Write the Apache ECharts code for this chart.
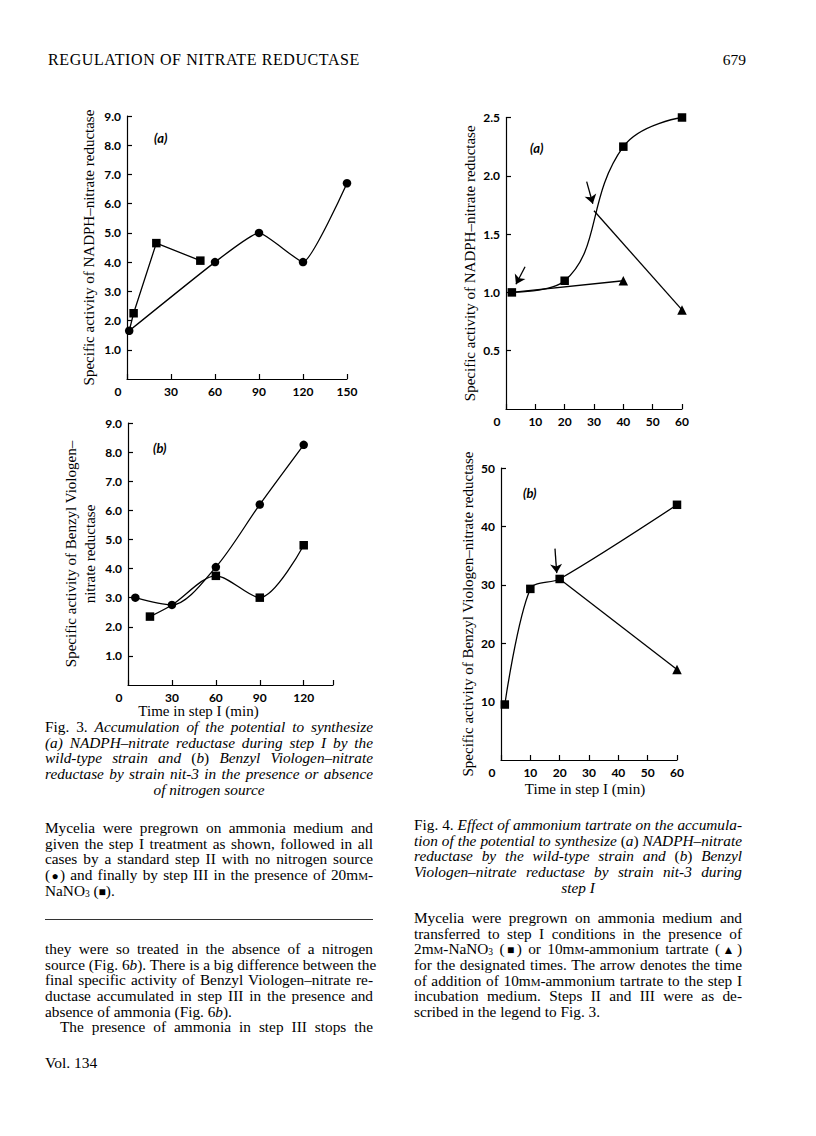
<!DOCTYPE html>
<html>
<head>
<meta charset="utf-8">
<script src="https://cdn.jsdelivr.net/npm/echarts@6/dist/echarts.min.js"></script>
<style>
  html, body { margin: 0; padding: 0; background: #fff; }
  #page { position: relative; width: 816px; height: 1136px; overflow: hidden; }
  #chart { position: absolute; left: 0; top: 0; width: 816px; height: 1136px; }
  .txt { position: absolute; font-family: "Liberation Serif", "DejaVu Serif", serif; font-size: 15.3px; line-height: 15.7px; color: #000; }
  .ln { white-space: nowrap; height: 15.7px; }
  .j { text-align: justify; text-align-last: justify; }
  .c { text-align: center; }
  .l { text-align: left; }
  .sc { font-variant: small-caps; }
  .sub { font-size: 9.5px; line-height: 0; vertical-align: -1px; }
  .sym { font-size: 12px; line-height: 0; }
  .rule { position: absolute; left: 45px; top: 919px; width: 328px; height: 0; border-top: 1.5px solid #333; }
</style>
</head>
<body>
<div id="page">
  <div id="chart"></div>

  <div class="txt" style="left:48px; top:52px; font-size:16px; letter-spacing:0.6px;">REGULATION OF NITRATE REDUCTASE</div>
  <div class="txt" style="left:700px; top:52px; width:46px; text-align:right; font-size:15.5px;">679</div>

  <!-- Fig. 3 caption and legend -->
  <div class="txt" style="left:45px; top:719px; width:328px;">
    <div class="ln j">Fig. 3. <i>Accumulation of the potential to synthesize</i></div>
    <div class="ln j"><i>(a) NADPH–nitrate reductase during step I by the</i></div>
    <div class="ln j"><i>wild-type strain and</i> (<i>b</i>) <i>Benzyl Viologen–nitrate</i></div>
    <div class="ln j"><i>reductase by strain nit-3 in the presence or absence</i></div>
    <div class="ln c"><i>of nitrogen source</i></div>
  </div>
  <div class="txt" style="left:45px; top:820px; width:328px;">
    <div class="ln j">Mycelia were pregrown on ammonia medium and</div>
    <div class="ln j">given the step I treatment as shown, followed in all</div>
    <div class="ln j">cases by a standard step II with no nitrogen source</div>
    <div class="ln j">(<span class="sym">●</span>) and finally by step III in the presence of 20m<span class="sc">m</span>-</div>
    <div class="ln l">NaNO<span class="sub">3</span> (<span class="sym">■</span>).</div>
  </div>
  <div class="rule"></div>
  <div class="txt" style="left:45px; top:941px; width:328px;">
    <div class="ln j">they were so treated in the absence of a nitrogen</div>
    <div class="ln j">source (Fig. 6<i>b</i>). There is a big difference between the</div>
    <div class="ln j">final specific activity of Benzyl Viologen–nitrate re-</div>
    <div class="ln j">ductase accumulated in step III in the presence and</div>
    <div class="ln l">absence of ammonia (Fig. 6<i>b</i>).</div>
    <div class="ln j" style="padding-left:15px;">The presence of ammonia in step III stops the</div>
  </div>
  <div class="txt" style="left:45px; top:1055px; font-size:15.5px;">Vol. 134</div>

  <!-- Fig. 4 caption and legend -->
  <div class="txt" style="left:414px; top:817px; width:328px;">
    <div class="ln j">Fig. 4. <i>Effect of ammonium tartrate on the accumula-</i></div>
    <div class="ln j"><i>tion of the potential to synthesize</i> (<i>a</i>) <i>NADPH–nitrate</i></div>
    <div class="ln j"><i>reductase by the wild-type strain and</i> (<i>b</i>) <i>Benzyl</i></div>
    <div class="ln j"><i>Viologen–nitrate reductase by strain nit-3 during</i></div>
    <div class="ln c"><i>step I</i></div>
  </div>
  <div class="txt" style="left:414px; top:910px; width:328px;">
    <div class="ln j">Mycelia were pregrown on ammonia medium and</div>
    <div class="ln j">transferred to step I conditions in the presence of</div>
    <div class="ln j">2m<span class="sc">m</span>-NaNO<span class="sub">3</span> (<span class="sym">■</span>) or 10m<span class="sc">m</span>-ammonium tartrate (<span class="sym">▲</span>)</div>
    <div class="ln j">for the designated times. The arrow denotes the time</div>
    <div class="ln j">of addition of 10m<span class="sc">m</span>-ammonium tartrate to the step I</div>
    <div class="ln j">incubation medium. Steps II and III were as de-</div>
    <div class="ln l">scribed in the legend to Fig. 3.</div>
  </div>
</div>

<script>
// Fig. 3a - NADPH-nitrate reductase, step I time (min)
const fig3aCircles = [[1.5, 1.65], [60, 4.0], [90, 5.0], [120, 4.0], [150, 6.7]];
const fig3aSquares = [[1.5, 1.65], [4.5, 2.25], [20, 4.65], [50, 4.05]];
// Fig. 3b - Benzyl Viologen-nitrate reductase
const fig3bCircles = [[5, 3.0], [30, 2.75], [60, 4.05], [90, 6.2], [120, 8.25]];
const fig3bSquares = [[15, 2.35], [30, 2.75], [60, 3.75], [90, 3.0], [120, 4.8]];
// Fig. 4a - NADPH-nitrate reductase, NaNO3 vs ammonium tartrate
const fig4aSquares = [[2, 1.0], [20, 1.1], [40, 2.25], [60, 2.5]];
const fig4aTriangles1 = [[2, 1.0], [40, 1.1]];
const fig4aTriangles2 = [[30, 1.7], [60, 0.85]];
const fig4aArrows = [[[6.5, 1.22], [3.4, 1.07]], [[27.5, 1.95], [29.6, 1.76]]];
// Fig. 4b - Benzyl Viologen-nitrate reductase
const fig4bSquares = [[1.3, 9.5], [10, 29.3], [20, 31.0], [60, 43.7]];
const fig4bTriangles = [[20, 31.0], [60, 15.5]];
const fig4bArrows = [[[18.4, 36.2], [19.0, 32.0]]];

const ink = '#000';
const tickFont = { fontFamily: 'Lato', fontWeight: 'bold', fontSize: 12, color: ink };
const nameFont = { fontFamily: 'Liberation Serif', fontSize: 15, color: ink };

function xAxisOf(grid, max, interval, name, namePad, gap) {
  return {
    gridIndex: grid, type: 'value', min: 0, max: max, interval: interval,
    axisLine: { lineStyle: { color: ink, width: 1.2 } },
    axisTick: { inside: true, length: 5, lineStyle: { color: ink, width: 1.2 } },
    splitLine: { show: false },
    axisLabel: Object.assign({}, tickFont, {
      margin: 6,
      formatter: function (v) {
        if (v === 0) return '{z|0}';
        return v % interval === 0 ? String(v) : '';
      },
      rich: { z: Object.assign({}, tickFont, { padding: [0, 18, 0, 0] }) }
    }),
    name: name || '', nameLocation: 'middle', nameGap: gap || 20,
    nameTextStyle: Object.assign({}, nameFont, { padding: namePad || 0 })
  };
}

function yAxisOf(grid, max, interval, digits, name, gap) {
  return {
    gridIndex: grid, type: 'value', min: 0, max: max, interval: interval,
    axisLine: { lineStyle: { color: ink, width: 1.2 } },
    axisTick: { inside: true, length: 5, lineStyle: { color: ink, width: 1.2 } },
    splitLine: { show: false },
    axisLabel: Object.assign({}, tickFont, {
      margin: 6, showMinLabel: false,
      formatter: function (v) { return v.toFixed(digits); }
    }),
    name: name, nameLocation: 'middle', nameGap: gap, nameRotate: 90,
    nameTextStyle: Object.assign({}, nameFont, { lineHeight: 19 })
  };
}

function pts(arr, hideFirst) {
  return arr.map(function (p, i) {
    return (hideFirst && i === 0) ? { value: p, symbol: 'none' } : { value: p };
  });
}

function line(idx, data, symbol, smooth, hideFirst, size) {
  return {
    type: 'line', xAxisIndex: idx, yAxisIndex: idx,
    data: pts(data, hideFirst), symbol: symbol, symbolSize: size || 8.5,
    smooth: smooth, showAllSymbol: true,
    lineStyle: { color: ink, width: 1.3 },
    itemStyle: { color: ink, borderWidth: 0 },
    silent: true
  };
}

function arrows(list) {
  return {
    silent: true, symbol: ['none', 'arrow'], symbolSize: 9,
    lineStyle: { color: ink, width: 1.3, type: 'solid' },
    itemStyle: { color: ink },
    label: { show: false },
    emphasis: { disabled: true },
    data: list.map(function (a) { return [{ coord: a[0] }, { coord: a[1] }]; })
  };
}

const chart = echarts.init(document.getElementById('chart'), null, { renderer: 'svg' });

const tri4a2 = line(2, fig4aTriangles2, 'triangle', false, true, 9.5);
tri4a2.markLine = arrows(fig4aArrows);
const tri4b = line(3, fig4bTriangles, 'triangle', false, true, 9.5);
tri4b.markLine = arrows(fig4bArrows);

const sq3b = line(1, fig3bSquares, 'rect', 0.3, false);
// the square at 30 min in Fig. 3b sits under the circle
sq3b.data[1].symbol = 'none';

const option = {
  animation: false,
  backgroundColor: 'transparent',
  grid: [
    { left: 127, top: 116, width: 220, height: 263 },
    { left: 128, top: 423, width: 205, height: 262 },
    { left: 506, top: 117.5, width: 176, height: 291.5 },
    { left: 501, top: 468, width: 176, height: 292 }
  ],
  xAxis: [
    xAxisOf(0, 150, 30),
    xAxisOf(1, 140, 30, 'Time in step I (min)', [0, 64, 0, 0], 18),
    xAxisOf(2, 60, 10),
    xAxisOf(3, 60, 10, 'Time in step I (min)', [0, 8, 0, 0], 21)
  ],
  yAxis: [
    yAxisOf(0, 9, 1, 1, 'Specific activity of NADPH–nitrate reductase', 29),
    yAxisOf(1, 9, 1, 1, 'Specific activity of Benzyl Viologen–\nnitrate reductase', 29),
    yAxisOf(2, 2.5, 0.5, 1, 'Specific activity of NADPH–nitrate reductase', 27),
    yAxisOf(3, 50, 10, 0, 'Specific activity of Benzyl Viologen–nitrate reductase', 21)
  ],
  graphic: [
    { type: 'text', left: 154, top: 131, style: { text: '(a)', font: 'italic bold 13px Lato', fill: ink } },
    { type: 'text', left: 153, top: 441, style: { text: '(b)', font: 'italic bold 13px Lato', fill: ink } },
    { type: 'text', left: 530, top: 141, style: { text: '(a)', font: 'italic bold 13px Lato', fill: ink } },
    { type: 'text', left: 523, top: 486, style: { text: '(b)', font: 'italic bold 13px Lato', fill: ink } }
  ],
  series: [
    line(0, fig3aCircles, 'circle', 0.15, false),
    line(0, fig3aSquares, 'rect', false, true),
    line(1, fig3bCircles, 'circle', 0.3, false),
    sq3b,
    line(2, fig4aSquares, 'rect', 0.45, false),
    line(2, fig4aTriangles1, 'triangle', false, true, 9.5),
    tri4a2,
    line(3, fig4bSquares, 'rect', 0.3, false),
    tri4b
  ]
};

chart.setOption(option);
window.addEventListener('resize', function () { chart.resize(); });
</script>
</body>
</html>
